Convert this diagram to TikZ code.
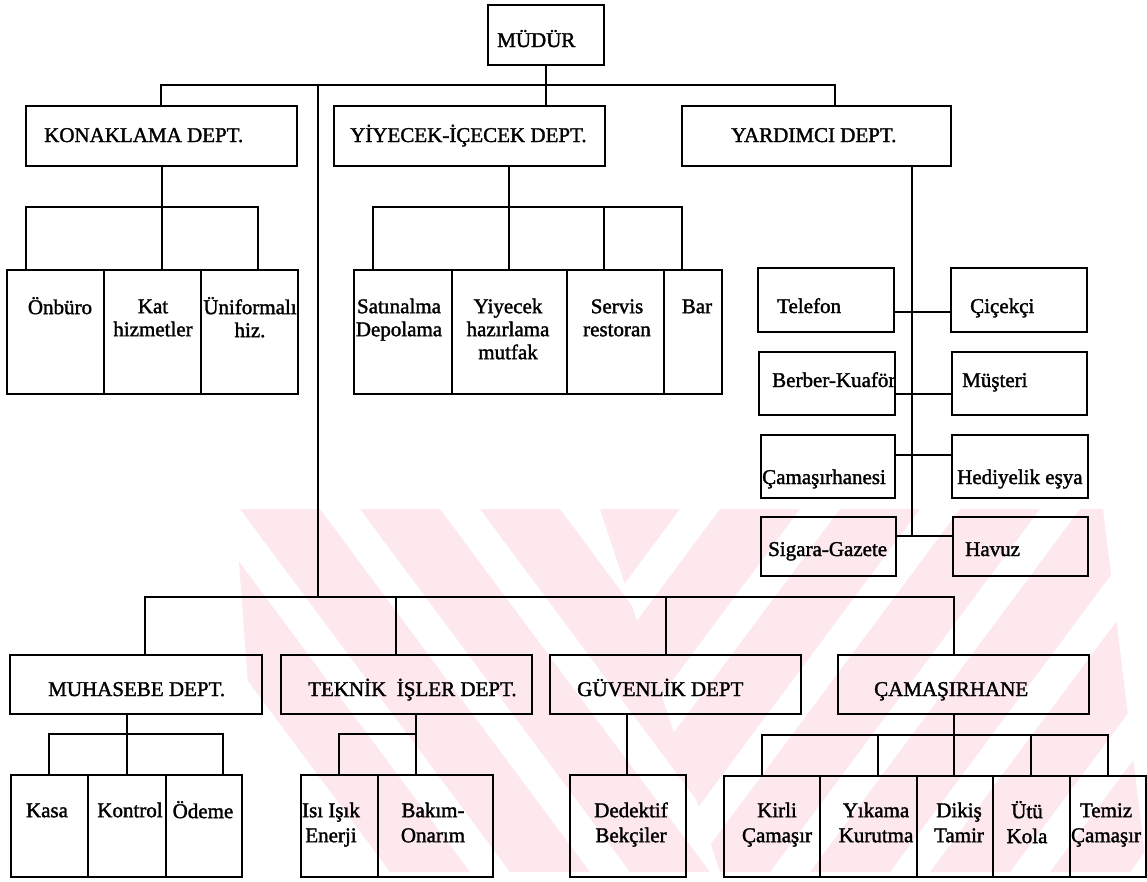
\documentclass[tikz,border=0pt]{standalone}
\usepackage{fontspec}
\setmainfont{Liberation Serif}
\newfontfamily\labface{Liberation Serif}[FakeBold=1.6]
\usetikzlibrary{fit}
\definecolor{wmpink}{RGB}{253,233,237}
\newcommand\labfont{\labface\fontsize{21}{23}\selectfont}
% box from its two corners
\newcommand\bx[5]{\node[box, fit={(#2,#3) (#4,#5)}] (#1) {};}

\begin{document}
\begin{tikzpicture}[x=1pt, y=-1pt,
  box/.style={draw, line width=1.8pt, inner sep=0pt, outer sep=0pt},
  conn/.style={line width=1.8pt},
  hd/.style={font=\labfont, inner sep=0pt, anchor=base west},
  ml/.style={font=\labfont, inner sep=0pt, anchor=north, align=center},
]
\useasboundingbox (0,0) rectangle (1147,881);

% pale striped emblem in the background
\begin{scope}
  \clip (235,509) -- (600,509) -- (720,872) -- (262,872) -- cycle;
  \foreach \c in {120,240,...,720}
    \fill[wmpink] (\c,509) -- ++(80,0) -- ++(270,363) -- ++(-80,0) -- cycle;
\end{scope}
\begin{scope}
  \clip (600,509) -- (1103,509) -- (1147,872) -- (720,872) -- cycle;
  \foreach \c in {600,720,...,1440}
    \fill[wmpink] (\c,509) -- ++(80,0) -- ++(-270,363) -- ++(-80,0) -- cycle;
\end{scope}

% ---- boxes ----
\bx{mudur}{488}{5}{604}{65}
\bx{konak}{26}{106}{297}{166}
\bx{yiyecek}{334}{106}{605}{166}
\bx{yardimci}{682}{106}{951}{166}

\bx{onburo}{7}{270}{104}{394}
\bx{kat}{104}{270}{201}{394}
\bx{uni}{201}{270}{298}{394}
\bx{satin}{354}{270}{452}{394}
\bx{yhaz}{452}{270}{567}{394}
\bx{servis}{567}{270}{664}{394}
\bx{bar}{664}{270}{722}{394}

\bx{telefon}{758}{268}{894}{332}
\bx{cicekci}{951}{268}{1087}{332}
\bx{berber}{759}{352}{895}{415}
\bx{musteri}{952}{352}{1087}{415}
\bx{camhanesi}{761}{435}{895}{498}
\bx{hediye}{952}{435}{1088}{498}
\bx{sigara}{761}{517}{896}{576}
\bx{havuz}{953}{517}{1088}{576}

\bx{muhasebe}{10}{655}{262}{714}
\bx{teknik}{281}{655}{532}{714}
\bx{guvenlik}{550}{655}{801}{714}
\bx{camasirhane}{838}{655}{1089}{714}

\bx{kasa}{11}{775}{88}{877}
\bx{kontrol}{88}{775}{166}{877}
\bx{odeme}{166}{775}{242}{877}
\bx{isi}{301}{775}{378}{877}
\bx{bakim}{378}{775}{493}{877}
\bx{dedektif}{570}{775}{686}{877}
\bx{kirli}{724}{776}{820}{877}
\bx{yikama}{820}{776}{917}{877}
\bx{dikis}{917}{776}{993}{877}
\bx{utu}{993}{776}{1070}{877}
\bx{temiz}{1070}{776}{1146}{877}

% ---- junction points ----
\coordinate (topL) at (161,85);
\coordinate (topR) at (835,85);
\coordinate (topM) at (546,85);
\coordinate (spineTop) at (318,85);
\coordinate (spineBot) at (318,597);
\coordinate (kL) at (26,207);
\coordinate (kM) at (162,207);
\coordinate (kR) at (258,207);
\coordinate (yL) at (373,207);
\coordinate (yM) at (509,207);
\coordinate (y3) at (604,207);
\coordinate (yR) at (682,207);
\coordinate (row1) at (912,312);
\coordinate (row2) at (912,394);
\coordinate (row3) at (912,455);
\coordinate (ySpBot) at (912,536);
\coordinate (botL) at (145,597);
\coordinate (botT) at (396,597);
\coordinate (botG) at (666,597);
\coordinate (botR) at (954,597);
\coordinate (mL) at (49,734);
\coordinate (mM) at (127,734);
\coordinate (mR) at (223,734);
\coordinate (tL) at (339,734);
\coordinate (tR) at (416,734);
\coordinate (gD) at (627,734);
\coordinate (cL) at (762,735);
\coordinate (c2) at (878,735);
\coordinate (cM) at (954,735);
\coordinate (c4) at (1031,735);
\coordinate (cR) at (1108,735);

% ---- connectors ----
\draw[conn] (topL |- konak.north) -- (topL) -- (topR) -- (topR |- yardimci.north);
\draw[conn] (topM |- mudur.south) -- (topM |- yiyecek.north);
\draw[conn] (spineTop) -- (spineBot);

\draw[conn] (kL |- onburo.north) -- (kL) -- (kR) -- (kR |- uni.north);
\draw[conn] (kM |- konak.south) -- (kM |- kat.north);

\draw[conn] (yL |- satin.north) -- (yL) -- (yR) -- (yR |- bar.north);
\draw[conn] (yM |- yiyecek.south) -- (yM |- yhaz.north);
\draw[conn] (y3) -- (y3 |- servis.north);

\draw[conn] (ySpBot |- yardimci.south) -- (ySpBot);
\draw[conn] (row1 -| telefon.east) -- (row1 -| cicekci.west);
\draw[conn] (row2 -| berber.east) -- (row2 -| musteri.west);
\draw[conn] (row3 -| camhanesi.east) -- (row3 -| hediye.west);
\draw[conn] (ySpBot -| sigara.east) -- (ySpBot -| havuz.west);

\draw[conn] (botL |- muhasebe.north) -- (botL) -- (botR) -- (botR |- camasirhane.north);
\draw[conn] (botT) -- (botT |- teknik.north);
\draw[conn] (botG) -- (botG |- guvenlik.north);

\draw[conn] (mL |- kasa.north) -- (mL) -- (mR) -- (mR |- odeme.north);
\draw[conn] (mM |- muhasebe.south) -- (mM |- kontrol.north);
\draw[conn] (tL |- isi.north) -- (tL) -- (tR) -- (tR |- bakim.north);
\draw[conn] (tR |- teknik.south) -- (tR);
\draw[conn] (gD |- guvenlik.south) -- (gD |- dedektif.north);
\draw[conn] (cL |- kirli.north) -- (cL) -- (cR) -- (cR |- temiz.north);
\draw[conn] (cM |- camasirhane.south) -- (cM |- dikis.north);
\draw[conn] (c2) -- (c2 |- yikama.north);
\draw[conn] (c4) -- (c4 |- utu.north);

% ---- labels ----
\node[hd] (tMudur) at (497,47) {MÜDÜR};
\node[hd] (tKonak) at (44,142) {KONAKLAMA DEPT.};
\node[hd] (tYiyecek) at (350,142) {YİYECEK-İÇECEK DEPT.};
\node[hd] (tYardimci) at (731,142) {YARDIMCI DEPT.};

\node[ml] (tOnburo) at (60,296.9) {\strut Önbüro};
\node[ml] (tKat) at (153,296.9) {\strut Kat\\hizmetler};
\node[ml] (tUni) at (250,296.9) {\strut Üniformalı\\hiz.};
\node[ml] (tSatin) at (399,296.9) {\strut Satınalma\\Depolama};
\node[ml] (tYhaz) at (508,296.9) {\strut Yiyecek\\hazırlama\\mutfak};
\node[ml] (tServis) at (617,296.9) {\strut Servis\\restoran};
\node[ml] (tBar) at (697,296.9) {\strut Bar};

\node[hd] (tTelefon) at (777,313) {Telefon};
\node[hd] (tCicekci) at (970,313) {Çiçekçi};
\node[hd] (tBerber) at (772,387) {Berber-Kuaför};
\node[hd] (tMusteri) at (962,387) {Müşteri};
\node[hd] (tCamhanesi) at (762,484) {Çamaşırhanesi};
\node[hd] (tHediye) at (957,484) {Hediyelik eşya};
\node[hd] (tSigara) at (768,556) {Sigara-Gazete};
\node[hd] (tHavuz) at (965,556) {Havuz};

\node[hd] (tMuhasebe) at (48,696) {MUHASEBE DEPT.};
\node[hd] (tTeknik) at (308,696) {TEKNİK\ \ İŞLER DEPT.};
\node[hd] (tGuvenlik) at (577,696) {GÜVENLİK DEPT};
\node[hd] (tCamasirhane) at (874,696) {ÇAMAŞIRHANE};

\node[ml] (tKasa) at (47,800.9) {\strut Kasa};
\node[ml] (tKontrol) at (130,800.9) {\strut Kontrol};
\node[ml] (tOdeme) at (203,800.9) {\strut Ödeme};
\node[ml] (tIsi) at (331,800.9) {\strut Isı Işık\\[2pt]Enerji};
\node[ml] (tBakim) at (433,800.9) {\strut Bakım-\\[2pt]Onarım};
\node[ml] (tDedektif) at (631,800.9) {\strut Dedektif\\[2pt]Bekçiler};
\node[ml] (tKirli) at (777,800.9) {\strut Kirli\\[2pt]Çamaşır};
\node[ml] (tYikama) at (876,800.9) {\strut Yıkama\\[2pt]Kurutma};
\node[ml] (tDikis) at (959,800.9) {\strut Dikiş\\[2pt]Tamir};
\node[ml] (tUtu) at (1027,800.9) {\strut Ütü\\[2pt]Kola};
\node[ml] (tTemiz) at (1106,800.9) {\strut Temiz\\[2pt]Çamaşır};
\end{tikzpicture}
\end{document}
